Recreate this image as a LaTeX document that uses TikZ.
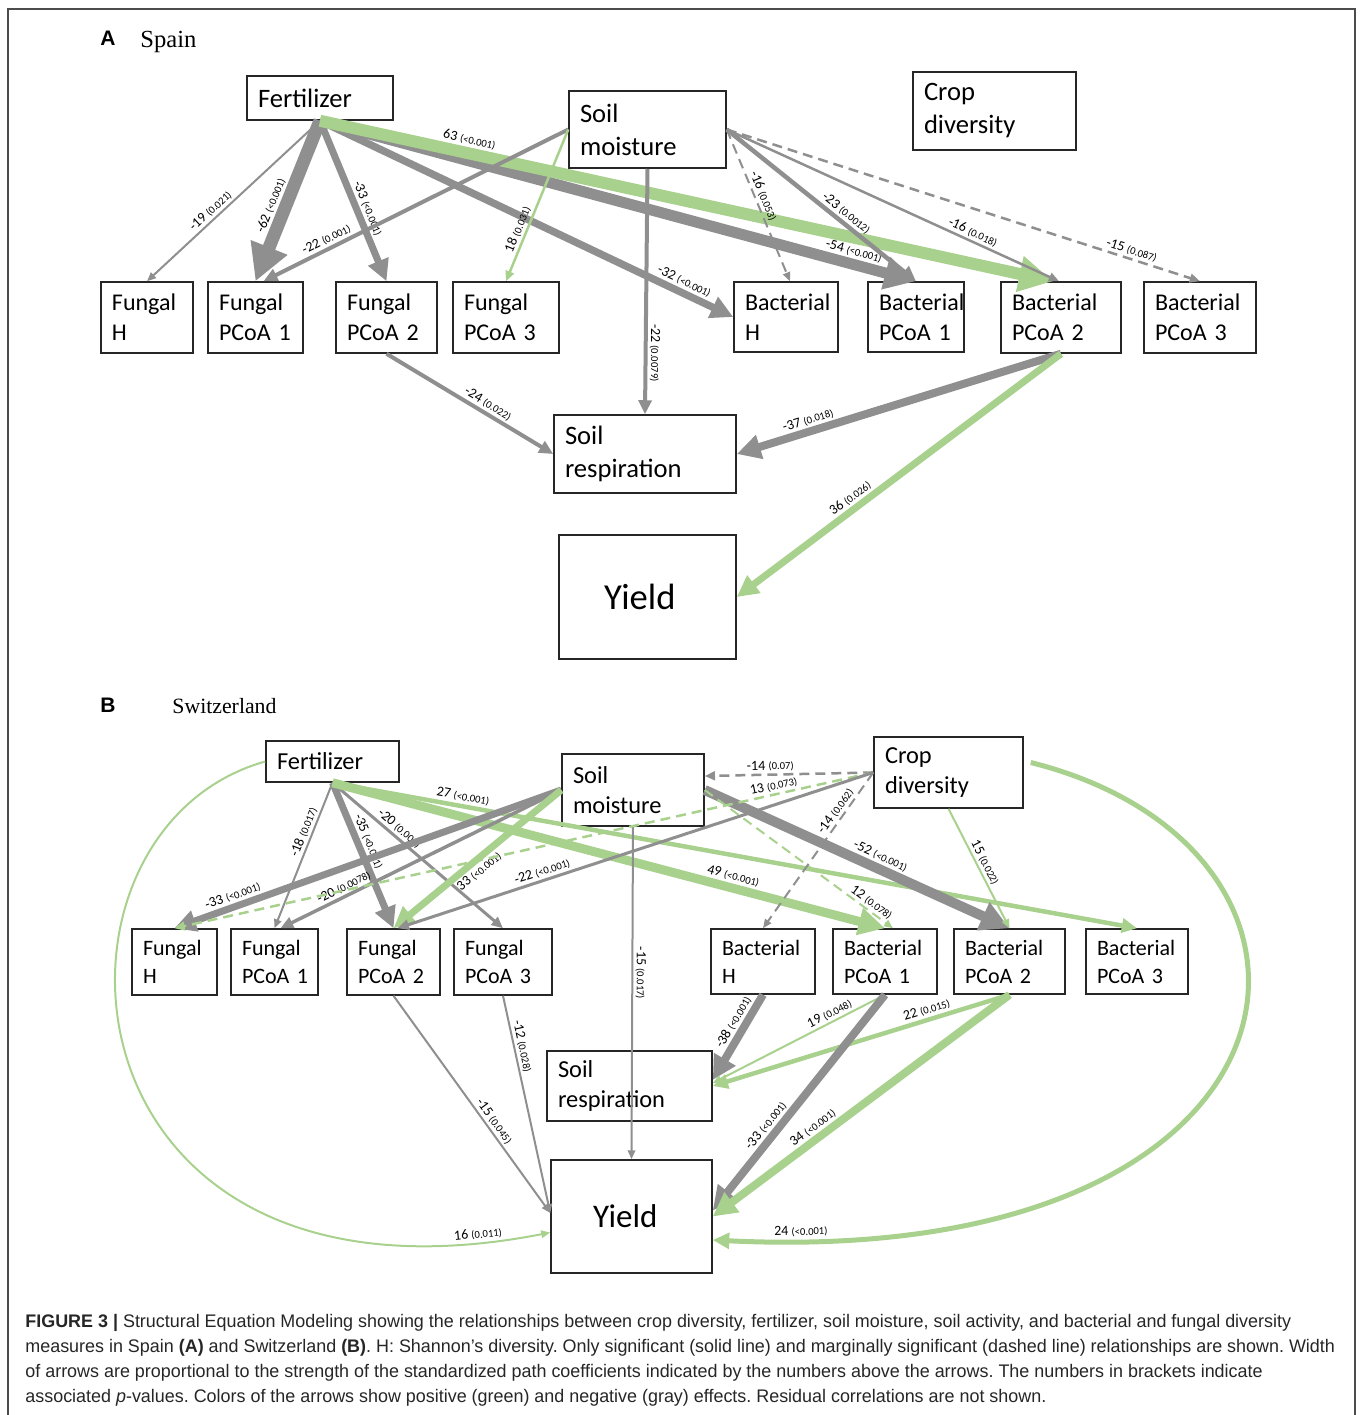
\documentclass[tikz,border=0pt]{standalone}
\usepackage{fontspec}
\setmainfont{Carlito}
\newfontfamily\capfont{Liberation Sans}[FakeStretch=0.985]
\newfontfamily\headsans{Liberation Sans}
\newfontfamily\headserif{Liberation Serif}
\usetikzlibrary{arrows.meta,calc}
\definecolor{gryc}{RGB}{143,143,143}
\definecolor{grnc}{RGB}{169,209,142}
\newcommand{\pcoef}[2]{{\fontsize{7}{8}\selectfont#1 }{\fontsize{5.3}{6}\selectfont(#2)}}
\hyphenpenalty=10000
\frenchspacing

\begin{document}
\begin{tikzpicture}[x=0.5pt,y=-0.5pt,>={Triangle[length=2pt 2.5,width=1pt 2.7]}]
  \tikzset{
    varbox/.style 2 args={draw=black!85, line width=0.75pt, inner xsep=5.5pt,
          inner ysep=0pt, align=left, text width=#1, minimum height=#2},
    fa/.style={font=\fontsize{13.3}{16.5}\selectfont},
    fab/.style={font=\fontsize{12}{15}\selectfont},
    fb/.style={font=\fontsize{12.2}{15}\selectfont},
    fbb/.style={font=\fontsize{11}{14}\selectfont},
    gry/.style={draw=gryc, line width=#1, ->},
    grn/.style={draw=grnc, line width=#1, ->},
    dsh/.style={dash pattern=on 5pt off 3pt},
    lbl/.style={sloped, inner sep=1pt},
    vlbl/.style={rotate=-90, anchor=south, inner sep=1pt}
  }
  \useasboundingbox (0,0) rectangle (1360,1415);
  \draw[line width=1pt, black!70] (8,1415) -- (8,9) -- (1355,9) -- (1355,1415);

  % panel A
  \node[anchor=base, font=\headsans\bfseries\fontsize{10.5}{12}\selectfont] (labA) at (108,45) {A};
  \node[anchor=base west, inner sep=0pt, font=\headserif\fontsize{12.3}{14}\selectfont] (ttlA) at (140,47) {Spain};

  \node[varbox={62pt}{22pt}, fa] (fertA) at (320,98) {Fertilizer};
  \node[varbox={67.5pt}{38.5pt}, fa] (moistA) at (647.5,129.5) {Soil\\moisture};
  \node[varbox={70.5pt}{39pt}, fa] (cropA) at (994.5,111) {Crop\\diversity};
  \node[varbox={35pt}{35.5pt}, fab] (fHA) at (147,317.5) {Fungal\\H};
  \node[varbox={36.5pt}{35.5pt}, fab] (fP1A) at (255.5,317.5) {Fungal\\PCoA~1};
  \node[varbox={39.5pt}{35.5pt}, fab] (fP2A) at (386.5,317.5) {Fungal\\PCoA~2};
  \node[varbox={42pt}{35.5pt}, fab] (fP3A) at (506,317.5) {Fungal\\PCoA~3};
  \node[varbox={41pt}{35pt}, fab] (bHA) at (786,317) {Bacterial\\H};
  \node[varbox={37pt}{35pt}, fab] (bP1A) at (916,317) {Bacterial\\PCoA~1};
  \node[varbox={49pt}{35.5pt}, fab] (bP2A) at (1061,317.5) {Bacterial\\PCoA~2};
  \node[varbox={45pt}{35.5pt}, fab] (bP3A) at (1200,317.5) {Bacterial\\PCoA~3};
  \node[varbox={80pt}{39pt}, fa] (respA) at (645,454) {Soil\\respiration};
  \node[varbox={43.5pt}{62pt}, inner xsep=22.5pt, font=\fontsize{18.3}{20}\selectfont] (yieldA) at (647.5,597) {Yield};

  \draw[gry=1pt] (fertA.south) -- (fHA.north) node[lbl, pos=0.6, above] {\pcoef{-19}{0.021}};
  \draw[gry=6.5pt] (fertA.south) -- (fP1A.north) node[lbl, pos=0.56, above] {\pcoef{-62}{<0.001}};
  \draw[gry=3.5pt] (fertA.south) -- (fP2A.north) node[lbl, pos=0.57, above] {\pcoef{-33}{<0.001}};
  \draw[gry=3.7pt] (fertA.south) -- (bHA.west) node[lbl, pos=0.87, above] {\pcoef{-32}{<0.001}};
  \draw[gry=5.5pt] (fertA.south) -- (bP1A.north) node[lbl, pos=0.89, above] {\pcoef{-54}{<0.001}};
  \draw[grn=6pt] (fertA.south) -- ([xshift=-4pt]bP2A.north) node[lbl, pos=0.2, above] {\pcoef{63}{<0.001}};
  \draw[gry=2pt] (moistA.west) -- ([xshift=4pt]fP1A.north) node[lbl, pos=0.78, above] {\pcoef{-22}{0.001}};
  \draw[grn=1.25pt] (moistA.west) -- (fP3A.north) node[lbl, pos=0.68, above] {\pcoef{18}{0.031}};
  \draw[gry=2pt] (moistA.south) -- (respA.north) node[vlbl, pos=0.75] {\pcoef{-22}{0.0079}};
  \draw[gry=1pt, dsh] (moistA.east) -- ([xshift=2pt]bHA.north) node[lbl, pos=0.46, above] {\pcoef{-16}{0.053}};
  \draw[gry=2.25pt] (moistA.east) -- (bP1A.north) node[lbl, pos=0.6, above] {\pcoef{-23}{0.0012}};
  \draw[gry=1.25pt] (moistA.east) -- ([xshift=-1pt]bP2A.north) node[lbl, pos=0.73, above] {\pcoef{-16}{0.018}};
  \draw[gry=1.25pt, dsh] (moistA.east) -- (bP3A.north) node[lbl, pos=0.85, above] {\pcoef{-15}{0.087}};
  \draw[gry=2pt] (fP2A.south) -- (respA.west) node[lbl, pos=0.58, above] {\pcoef{-24}{0.022}};
  \draw[gry=4pt] (bP2A.south) -- (respA.east) node[lbl, pos=0.77, above] {\pcoef{-37}{0.018}};
  \draw[grn=3.5pt] (bP2A.south) -- (yieldA.east) node[lbl, pos=0.63, above] {\pcoef{36}{0.026}};

  % panel B
  \node[anchor=base, font=\headsans\bfseries\fontsize{10.5}{12}\selectfont] (labB) at (108,712) {B};
  \node[anchor=base west, inner sep=0pt, font=\headserif\fontsize{10.9}{13}\selectfont] (ttlB) at (172,713) {Switzerland};

  \node[varbox={55.5pt}{20.5pt}, fb] (fertB) at (332.5,761.5) {Fertilizer};
  \node[varbox={60pt}{36pt}, fb] (moistB) at (633,790) {Soil\\moisture};
  \node[varbox={63.5pt}{35.5pt}, fb] (cropB) at (948.5,772.5) {Crop\\diversity};
  \node[varbox={31.5pt}{33pt}, fbb] (fHB) at (174.5,962) {Fungal\\H};
  \node[varbox={32.5pt}{33pt}, fbb] (fP1B) at (274.5,962) {Fungal\\PCoA~1};
  \node[varbox={35.5pt}{33pt}, fbb] (fP2B) at (393.5,962) {Fungal\\PCoA~2};
  \node[varbox={38pt}{33pt}, fbb] (fP3B) at (503,962) {Fungal\\PCoA~3};
  \node[varbox={41pt}{32.5pt}, fbb] (bHB) at (763,961.5) {Bacterial\\H};
  \node[varbox={41pt}{32.5pt}, fbb] (bP1B) at (885,961.5) {Bacterial\\PCoA~1};
  \node[varbox={44.5pt}{32.5pt}, fbb] (bP2B) at (1009.5,961.5) {Bacterial\\PCoA~2};
  \node[varbox={40pt}{32.5pt}, fbb] (bP3B) at (1137,961.5) {Bacterial\\PCoA~3};
  \node[varbox={71.5pt}{35pt}, fb] (respB) at (629.5,1086) {Soil\\respiration};
  \node[varbox={38.5pt}{56.5pt}, inner xsep=21pt, font=\fontsize{16.5}{18}\selectfont] (yieldB) at (631.5,1216.5) {Yield};

  \draw[gry=1pt] (fertB.south) -- (fP1B.north) node[lbl, pos=0.36, above] {\pcoef{-18}{0.017}};
  \draw[gry=3.5pt] (fertB.south) -- (fP2B.north) node[lbl, pos=0.43, above] {\pcoef{-35}{<0.001}};
  \draw[gry=1.5pt] (fertB.south) -- (fP3B.north) node[lbl, pos=0.36, above] {\pcoef{-20}{0.006}};
  \draw[grn=4.5pt] (fertB.south) -- (bP1B.north) node[lbl, pos=0.72, above] {\pcoef{49}{<0.001}};
  \draw[grn=2.25pt] (fertB.south) -- (bP3B.north) node[lbl, pos=0.16, above] {\pcoef{27}{<0.001}};
  \draw[grn=1pt] (fertB.west) .. controls (20,830) and (50,1330) .. ([yshift=-8pt]yieldB.west)
        node[lbl, pos=0.95, above] {\pcoef{16}{0.011}};
  \draw[gry=3.5pt] (moistB.west) -- (fHB.north) node[lbl, pos=0.84, above] {\pcoef{-33}{<0.001}};
  \draw[gry=1.75pt] (moistB.west) -- ([xshift=3pt]fP1B.north) node[lbl, pos=0.76, above] {\pcoef{-20}{0.0078}};
  \draw[grn=3.5pt] (moistB.west) -- (fP2B.north) node[lbl, pos=0.53, below] {\pcoef{33}{<0.001}};
  \draw[gry=5pt] (moistB.east) -- (bP2B.north) node[lbl, pos=0.56, above] {\pcoef{-52}{<0.001}};
  \draw[grn=1pt, dsh] (moistB.east) -- ([xshift=4pt]bP1B.north) node[lbl, pos=0.86, above] {\pcoef{12}{0.078}};
  \draw[gry=1pt] (moistB.south) -- (yieldB.north) node[vlbl, pos=0.44] {\pcoef{-15}{0.017}};
  \draw[gry=1.25pt, dsh] (cropB.west) -- ([yshift=7pt]moistB.east) node[lbl, pos=0.61, above] {\pcoef{-14}{0.07}};
  \draw[grn=1.25pt, dsh] (cropB.west) -- (fHB.north) node[lbl, pos=0.14, above] {\pcoef{13}{0.073}};
  \draw[gry=1.5pt] (cropB.west) -- ([xshift=2pt]fP2B.north) node[lbl, pos=0.69, above] {\pcoef{-22}{<0.001}};
  \draw[gry=1pt, dsh] (cropB.west) -- (bHB.north) node[lbl, pos=0.28, above] {\pcoef{-14}{0.062}};
  \draw[grn=1pt] (cropB.south) -- (bP2B.north) node[lbl, pos=0.48, above] {\pcoef{15}{0.022}};
  \draw[grn=2.5pt] ([shift={(3.5pt,5pt)}]cropB.east) .. controls (1380,850) and (1330,1270) .. ([yshift=-11.75pt]yieldB.east)
        node[lbl, pos=0.95, above] {\pcoef{24}{<0.001}};
  \draw[gry=1pt] (fP2B.south) -- ([yshift=1.75pt]yieldB.west) node[lbl, pos=0.6, above] {\pcoef{-15}{0.045}};
  \draw[gry=1pt] (fP3B.south) -- ([yshift=1.75pt]yieldB.west) node[lbl, pos=0.24, above] {\pcoef{-12}{0.028}};
  \draw[gry=4pt] (bHB.south) -- ([yshift=3pt]respB.east) node[lbl, pos=0.39, above] {\pcoef{-38}{<0.001}};
  \draw[grn=1pt] (bP1B.south) -- ([yshift=1.5pt]respB.east) node[lbl, pos=0.3, above] {\pcoef{19}{0.048}};
  \draw[grn=2.25pt] (bP2B.south) -- (respB.east) node[lbl, pos=0.27, above] {\pcoef{22}{0.015}};
  \draw[gry=4pt] (bP1B.south) -- ([yshift=3pt]yieldB.east) node[lbl, pos=0.64, above] {\pcoef{-33}{<0.001}};
  \draw[grn=4pt] (bP2B.south) -- (yieldB.east) node[lbl, pos=0.64, above] {\pcoef{34}{<0.001}};

  % caption
  \node[anchor=north west, align=left, inner sep=0pt, text=black!85,
        font=\capfont\fontsize{9.1}{12.5}\selectfont] (caption) at (25,1314)
    {\textbf{FIGURE 3 |} Structural Equation Modeling showing the relationships between crop diversity, fertilizer, soil moisture, soil activity, and bacterial and fungal diversity\\
     measures in Spain \textbf{(A)} and Switzerland \textbf{(B)}. H: Shannon’s diversity. Only significant (solid line) and marginally significant (dashed line) relationships are shown. Width\\
     of arrows are proportional to the strength of the standardized path coefficients indicated by the numbers above the arrows. The numbers in brackets indicate\\
     associated \textit{p}-values. Colors of the arrows show positive (green) and negative (gray) effects. Residual correlations are not shown.};
\end{tikzpicture}
\end{document}
